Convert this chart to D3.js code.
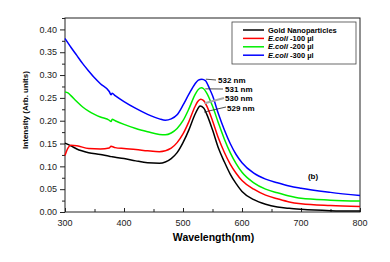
<!DOCTYPE html>
<html>
<head>
<meta charset="utf-8">
<script src="https://cdn.jsdelivr.net/npm/d3@7"></script>
<style>
    body { margin: 0; background: #fff; }
    svg { display: block; font-family: "Liberation Sans", Arial, sans-serif; }
</style>
</head>
<body>
<div id="chart"></div>
<script>
const seriesNames = ["Gold Nanoparticles", "-100 µl", "-200 µl", "-300 µl"];
const seriesColors = ["#000000", "#ff0000", "#00ee00", "#0000ff"];
const peakLabels = ["529 nm", "530 nm", "531 nm", "532 nm"];

const goldWl = [300, 310, 320, 340, 360, 375, 380, 385, 400, 420, 440, 460, 480, 490, 500, 510, 520, 525, 529, 535, 540, 550, 560, 570, 580, 590, 600, 620, 640, 660, 680, 700, 750, 800];
const goldAbs = [0.151, 0.145, 0.138, 0.130, 0.126, 0.122, 0.121, 0.120, 0.117, 0.112, 0.108, 0.107, 0.117, 0.130, 0.152, 0.180, 0.213, 0.226, 0.232, 0.228, 0.215, 0.180, 0.140, 0.110, 0.083, 0.062, 0.045, 0.027, 0.017, 0.011, 0.008, 0.006, 0.003, 0.002];

const ecoli100Wl = [300, 305, 310, 320, 340, 360, 375, 378, 385, 400, 420, 440, 460, 480, 490, 500, 510, 520, 525, 530, 535, 540, 550, 560, 570, 580, 590, 600, 620, 640, 660, 680, 700, 750, 800];
const ecoli100Abs = [0.124, 0.140, 0.146, 0.145, 0.139, 0.138, 0.140, 0.144, 0.141, 0.139, 0.137, 0.134, 0.132, 0.140, 0.152, 0.171, 0.198, 0.230, 0.242, 0.247, 0.244, 0.233, 0.200, 0.162, 0.131, 0.105, 0.085, 0.069, 0.050, 0.037, 0.029, 0.022, 0.018, 0.014, 0.012];

const ecoli200Wl = [300, 305, 310, 320, 330, 340, 350, 360, 375, 378, 380, 385, 400, 420, 440, 460, 470, 480, 490, 500, 510, 520, 525, 531, 535, 540, 550, 560, 570, 580, 590, 600, 620, 640, 660, 680, 700, 750, 800];
const ecoli200Abs = [0.263, 0.261, 0.255, 0.242, 0.230, 0.221, 0.214, 0.208, 0.201, 0.198, 0.203, 0.200, 0.192, 0.183, 0.176, 0.170, 0.169, 0.173, 0.183, 0.200, 0.226, 0.256, 0.267, 0.272, 0.270, 0.261, 0.232, 0.195, 0.160, 0.130, 0.106, 0.087, 0.064, 0.050, 0.042, 0.035, 0.030, 0.026, 0.024];

const ecoli300Wl = [300, 310, 320, 330, 340, 350, 360, 375, 378, 380, 385, 400, 420, 440, 460, 470, 480, 490, 500, 510, 520, 526, 532, 538, 545, 550, 560, 570, 580, 590, 600, 620, 640, 660, 680, 700, 750, 800];
const ecoli300Abs = [0.380, 0.361, 0.343, 0.325, 0.309, 0.294, 0.281, 0.264, 0.257, 0.260, 0.255, 0.242, 0.227, 0.214, 0.204, 0.201, 0.204, 0.213, 0.234, 0.258, 0.280, 0.289, 0.291, 0.288, 0.270, 0.255, 0.215, 0.180, 0.150, 0.126, 0.108, 0.085, 0.072, 0.064, 0.057, 0.052, 0.043, 0.036];

const xTicks = [300, 400, 500, 600, 700, 800];
const yTicks = [0.00, 0.05, 0.10, 0.15, 0.20, 0.25, 0.30, 0.35, 0.40];

const series = [
    { wl: goldWl, abs: goldAbs, peak: 529 },
    { wl: ecoli100Wl, abs: ecoli100Abs, peak: 530 },
    { wl: ecoli200Wl, abs: ecoli200Abs, peak: 531 },
    { wl: ecoli300Wl, abs: ecoli300Abs, peak: 532 }
].map((s, i) => ({
    name: seriesNames[i],
    color: seriesColors[i],
    label: peakLabels[i],
    peak: s.peak,
    points: s.wl.map((w, j) => ({ w, a: s.abs[j] }))
}));

const margin = { top: 18, right: 30, bottom: 50, left: 65 };
const fullW = 390, fullH = 262;
const width = fullW - margin.left - margin.right;
const height = fullH - margin.top - margin.bottom;

const svg = d3.select("#chart")
    .append("svg")
    .attr("width", fullW)
    .attr("height", fullH)
    .append("g")
    .attr("transform", `translate(${margin.left},${margin.top})`);

const x = d3.scaleLinear().domain([300, 800]).range([0, width]);
const y = d3.scaleLinear().domain([0, 0.425]).range([height, 0]);

// frame
svg.append("rect")
    .attr("width", width)
    .attr("height", height)
    .attr("fill", "none")
    .attr("stroke", "#222")
    .attr("stroke-width", 1);

// x axis, ticks point inward
const xAxis = svg.append("g")
    .attr("transform", `translate(0,${height})`);
xAxis.call(d3.axisBottom(x).tickValues(d3.range(300, 801, 50)).tickSize(-4).tickFormat(""))
    .call(g => g.select(".domain").remove());
xAxis.selectAll(".tick line").attr("stroke", "#222")
    .attr("y2", (d) => d % 100 === 0 ? -4 : -3);
xAxis.selectAll(".xlab")
    .data(xTicks)
    .enter()
    .append("text")
    .attr("x", d => x(d))
    .attr("y", 14)
    .attr("text-anchor", "middle")
    .attr("font-size", "9px")
    .attr("fill", "#222")
    .text(d => d);

// y axis, ticks point outward
const yAxis = svg.append("g");
yAxis.call(d3.axisLeft(y).tickValues(d3.range(0, 0.4251, 0.025)).tickSize(4).tickFormat(""))
    .call(g => g.select(".domain").remove());
yAxis.selectAll(".tick line").attr("stroke", "#222")
    .attr("x2", (d, i) => i % 2 === 0 ? -5 : -3);
yAxis.selectAll(".ylab")
    .data(yTicks)
    .enter()
    .append("text")
    .attr("x", -8)
    .attr("y", d => y(d))
    .attr("dy", "0.35em")
    .attr("text-anchor", "end")
    .attr("font-size", "9px")
    .attr("fill", "#222")
    .text(d => d.toFixed(2));

svg.append("text")
    .attr("x", width / 2 + 1)
    .attr("y", height + 29)
    .attr("text-anchor", "middle")
    .attr("font-size", "10.5px")
    .attr("font-weight", "bold")
    .text("Wavelength(nm)");

svg.append("text")
    .attr("transform", "rotate(-90)")
    .attr("x", -height / 2 + 5)
    .attr("y", -37)
    .attr("text-anchor", "middle")
    .attr("font-size", "8px")
    .attr("font-weight", "bold")
    .text("Intensity (Arb. units)");

const line = d3.line()
    .x(d => x(d.w))
    .y(d => y(d.a))
    .curve(d3.curveMonotoneX);

svg.selectAll(".spectrum")
    .data(series)
    .enter()
    .append("path")
    .attr("class", "spectrum")
    .attr("d", d => line(d.points))
    .attr("fill", "none")
    .attr("stroke", d => d.color)
    .attr("stroke-width", 1.5);

// peak annotations
const labelY = [108, 98, 89, 80];
const ann = svg.selectAll(".ann")
    .data(series)
    .enter()
    .append("g")
    .attr("class", "ann");
ann.append("line")
    .attr("x1", d => x(d.peak) + 4)
    .attr("y1", (d, i) => y(d.points.find(p => p.w === d.peak).a) + [6, 4, 1, 0][i])
    .attr("x2", (d, i) => [226, 224, 223, 216][i] - margin.left)
    .attr("y2", (d, i) => labelY[i] - margin.top - [1, 0, 0, 0][i])
    .attr("stroke", (d, i) => i === 1 ? "#aaa" : "#222")
    .attr("stroke-width", (d, i) => i === 1 ? 2 : 0.8);
ann.append("text")
    .attr("x", (d, i) => [227, 225, 225, 218][i] - margin.left)
    .attr("y", (d, i) => labelY[i] - margin.top)
    .attr("dy", "0.35em")
    .attr("font-size", "8px")
    .attr("font-weight", "bold")
    .text(d => d.label);

svg.append("text")
    .attr("x", 313 - margin.left)
    .attr("y", 176 - margin.top)
    .attr("dy", "0.35em")
    .attr("text-anchor", "middle")
    .attr("font-size", "8px")
    .attr("font-weight", "bold")
    .text("(b)");

// legend
const legend = svg.append("g")
    .attr("transform", `translate(${232 - margin.left},${22 - margin.top})`);
legend.append("rect")
    .attr("width", 124)
    .attr("height", 42)
    .attr("fill", "#fff")
    .attr("stroke", "#444")
    .attr("stroke-width", 0.8);
const rows = legend.selectAll(".row")
    .data(series)
    .enter()
    .append("g")
    .attr("transform", (d, i) => `translate(0,${8 + i * 8.4})`);
rows.append("line")
    .attr("x1", 11)
    .attr("x2", 32)
    .attr("stroke", d => d.color)
    .attr("stroke-width", 1.5);
const rowText = rows.append("text")
    .attr("x", 36)
    .attr("dy", "0.35em")
    .attr("font-size", "7.5px")
    .attr("font-weight", "bold");
rowText.filter((d, i) => i > 0).append("tspan")
    .attr("font-style", "italic")
    .text("E.coli ");
rowText.append("tspan")
    .text(d => d.name);
</script>
</body>
</html>
